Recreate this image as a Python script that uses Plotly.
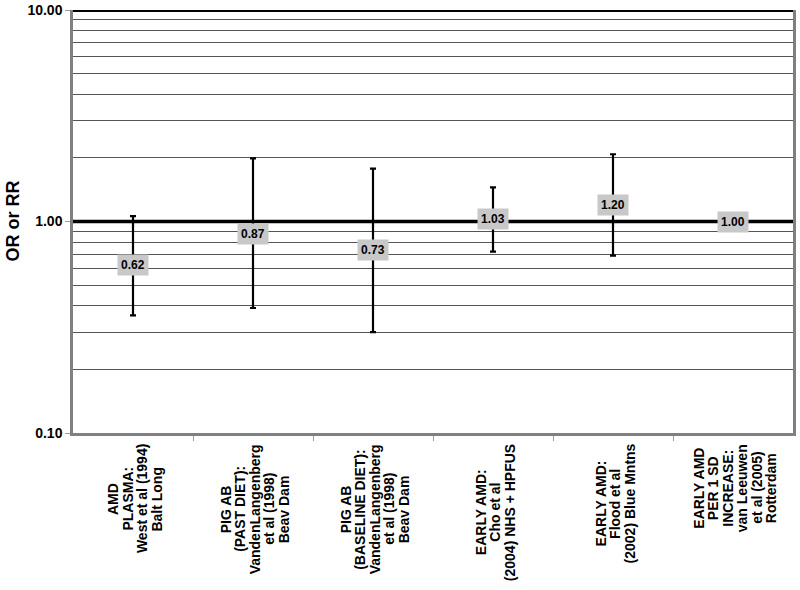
import math
import plotly.graph_objects as go

categories = [
    ["AMD", "PLASMA:", "West et al (1994)", "Balt Long"],
    ["PIG AB", "(PAST DIET):", "VandenLangenberg", "et al (1998)", "Beav Dam"],
    ["PIG AB", "(BASELINE DIET):", "VandenLangenberg", "et al (1998)", "Beav Dam"],
    ["EARLY AMD:", "Cho et al", "(2004) NHS + HPFUS"],
    ["EARLY AMD:", "Flood et al", "(2002) Blue Mntns"],
    ["EARLY AMD", "PER 1 SD", "INCREASE:", "van Leeuwen", "et al (2005)", "Rotterdam"],
]
or_values = [0.62, 0.87, 0.73, 1.03, 1.20, 1.00]
ci_lower = [0.36, 0.39, 0.30, 0.72, 0.69, 1.00]
ci_upper = [1.06, 1.99, 1.78, 1.45, 2.08, 1.00]
value_labels = ["0.62", "0.87", "0.73", "1.03", "1.20", "1.00"]
ytick_vals = [0.1, 1, 10]
ytick_text = ["0.10", "1.00", "10.00"]
minor_grid = [0.2, 0.3, 0.4, 0.5, 0.6, 0.7, 0.8, 0.9, 2, 3, 4, 5, 6, 7, 8, 9]
y_title = "OR or RR"

FONT = "Liberation Sans, Arial"
LABEL_SIZE = 14
LINE_GAP = 14.5

# approximate Arial Bold advance widths (per 1000 em) for centring the rotated label blocks
_W = {" ": 278, "(": 333, ")": 333, "+": 584, ":": 333, ".": 278,
      "A": 722, "B": 722, "C": 722, "D": 722, "E": 667, "F": 611, "G": 778, "H": 722,
      "I": 278, "L": 611, "M": 833, "N": 722, "P": 667, "R": 722, "S": 667, "T": 611,
      "U": 722, "V": 667, "W": 944, "Y": 667,
      "a": 556, "b": 611, "c": 556, "d": 611, "e": 556, "g": 611, "h": 611, "i": 278,
      "l": 278, "m": 889, "n": 611, "o": 611, "r": 389, "s": 556, "t": 333, "u": 611,
      "w": 778, "k": 556, "f": 333}


def text_w(s, size):
    return sum(_W.get(ch, 556) for ch in s) * size / 1000.0


xs = list(range(len(categories)))
err_plus = [u - v for u, v in zip(ci_upper, or_values)]
err_minus = [v - l for v, l in zip(or_values, ci_lower)]

fig = go.Figure()
fig.add_trace(go.Scatter(
    x=xs, y=or_values, mode="markers",
    marker=dict(size=1, color="rgba(0,0,0,0)"),
    error_y=dict(type="data", symmetric=False, array=err_plus, arrayminus=err_minus,
                 color="black", thickness=2.2, width=3),
    showlegend=False, hoverinfo="skip",
))

annotations = []
for i, (v, t) in enumerate(zip(or_values, value_labels)):
    annotations.append(dict(
        x=i, y=math.log10(v), xref="x", yref="y", yanchor="middle", xanchor="center",
        text="<b>%s</b>" % t, showarrow=False, bgcolor="#c8c8c8",
        font=dict(family=FONT, size=12, color="black"),
        borderpad=3,
    ))
for i, lines in enumerate(categories):
    maxw = max(text_w(s, LABEL_SIZE) for s in lines)
    n = len(lines)
    for j, s in enumerate(lines):
        annotations.append(dict(
            x=i, y=0, xref="x", yref="paper", yanchor="middle", xanchor="center",
            xshift=(j - (n - 1) / 2.0) * LINE_GAP + 2,
            yshift=-(11 + maxw / 2.0),
            text="<b>%s</b>" % s, showarrow=False, textangle=-90,
            font=dict(family=FONT, size=LABEL_SIZE, color="black"),
        ))
annotations.append(dict(
    x=0, y=0.5, xref="paper", yref="paper", xanchor="center", yanchor="middle",
    xshift=-61, text="<b>%s</b>" % y_title, showarrow=False, textangle=-90,
    font=dict(family=FONT, size=18, color="black"),
))

fig.update_layout(
    template="none",
    width=800, height=590,
    margin=dict(l=73, r=7, t=10, b=157),
    paper_bgcolor="white", plot_bgcolor="white",
    annotations=annotations,
    shapes=[
        dict(type="line", xref="paper", yref="y", x0=0, x1=1, y0=1, y1=1,
             line=dict(color="black", width=3.5), layer="below"),
        dict(type="line", xref="paper", yref="y", x0=0, x1=1, y0=10, y1=10,
             line=dict(color="black", width=4), layer="above"),
    ],
    xaxis=dict(
        automargin=False,
        range=[-0.5, len(categories) - 0.5],
        tickvals=[i + 0.5 for i in xs[:-1]], ticktext=[""] * (len(xs) - 1),
        ticks="outside", ticklen=5, tickcolor="#999999", tickwidth=1,
        showgrid=False, zeroline=False,
        showline=True, linecolor="#808080", linewidth=2.5,
    ),
    yaxis=dict(
        automargin=False,
        type="log", range=[-1, 1],
        tickvals=ytick_vals, ticktext=ytick_text,
        ticklabeloverflow="allow",
        tickfont=dict(family=FONT, size=14, color="black", weight="bold"),
        ticks="outside", ticklen=5, tickcolor="#999999", tickwidth=1,
        showgrid=False, zeroline=False,
        showline=True, linecolor="#808080", linewidth=2.5, mirror=True,
        minor=dict(tickvals=minor_grid, showgrid=True, gridcolor="#555555",
                   gridwidth=1, ticks=""),
    ),
)

fig.write_html("out.html",
               config={"displayModeBar": False},
               post_script="document.body.style.margin='0';document.body.style.overflow='hidden';")
